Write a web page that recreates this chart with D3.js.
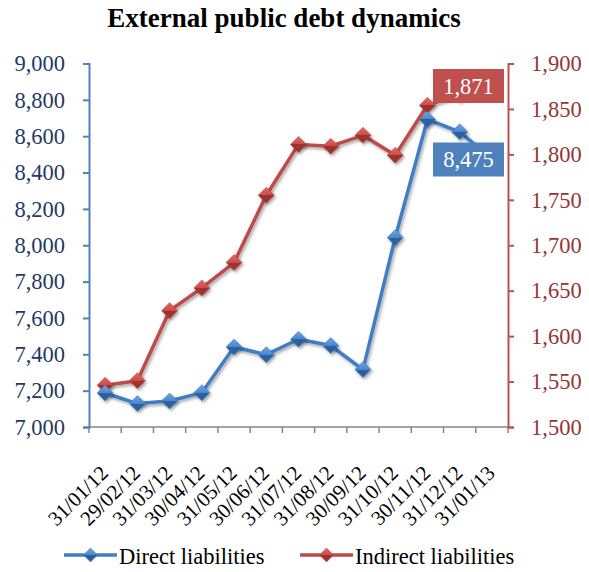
<!DOCTYPE html>
<html><head><meta charset="utf-8">
<script src="https://cdn.jsdelivr.net/npm/d3@7"></script>
<style>body{margin:0;background:#fff}svg{display:block}</style>
</head><body><svg id="c" width="589" height="572"></svg>
<script>
const categories = ["31/01/12","29/02/12","31/03/12","30/04/12","31/05/12","30/06/12","31/07/12","31/08/12","30/09/12","31/10/12","30/11/12","31/12/12","31/01/13"];
const directValues = [7187,7129,7143,7189,7440,7398,7483,7448,7316,8042,8692,8624,8475];
const indirectValues = [1546,1551,1628,1653,1681,1755,1811,1809,1821,1799,1854,1866,1871];
const leftTicks = [7000,7200,7400,7600,7800,8000,8200,8400,8600,8800,9000];
const rightTicks = [1500,1550,1600,1650,1700,1750,1800,1850,1900];
const seriesNames = ["Direct liabilities","Indirect liabilities"];

const svg = d3.select("#c");
const font = "'Liberation Serif','Times New Roman',serif";
const L = 89, R = 508, T = 63.5, B = 427;
const blue = "#3F7DC5", red = "#C0504D";

const x = d3.scaleBand().domain(categories).range([L, R]);
const yL = d3.scaleLinear().domain([7000, 9000]).range([B, T]);
const yR = d3.scaleLinear().domain([1500, 1900]).range([B, T]);

const defs = svg.append("defs");
const f = defs.append("filter").attr("id","sh").attr("x","-50%").attr("y","-50%").attr("width","200%").attr("height","200%");
f.append("feDropShadow").attr("dx",1.5).attr("dy",2).attr("stdDeviation",1.5).attr("flood-color","#000").attr("flood-opacity",0.35);

svg.append("text").attr("x", 284).attr("y", 27).attr("text-anchor","middle")
  .attr("font-family", font).attr("font-weight","bold").attr("font-size", 27).attr("fill","#000")
  .text("External public debt dynamics");

// x axis
const xa = svg.append("g").attr("transform", `translate(0,${B})`);
xa.append("line").attr("x1", L).attr("x2", R).attr("stroke","#868686").attr("stroke-width",1.5);
const bounds = categories.map(c => x(c)).concat([R]);
xa.selectAll("line.t").data(bounds).join("line").attr("class","t")
  .attr("x1", d=>d).attr("x2", d=>d).attr("y1",0).attr("y2",6).attr("stroke","#868686").attr("stroke-width",1.5);
svg.append("g").selectAll("text").data(categories).join("text")
  .attr("transform", d => `translate(${x(d)+x.bandwidth()/2-1},${B+42}) rotate(-45)`)
  .attr("text-anchor","end").attr("dy","0.35em")
  .attr("font-family", font).attr("font-size", 21).attr("fill","#000").text(d=>d);

// left axis
const la = svg.append("g").attr("transform", `translate(${L},0)`)
  .call(d3.axisLeft(yL).tickValues(leftTicks).tickSize(6).tickPadding(18).tickFormat(d3.format(",")));
la.select(".domain").attr("stroke", "#4F81BD").attr("stroke-width",2);
la.selectAll(".tick line").attr("stroke","#4F81BD").attr("stroke-width",2);
la.selectAll(".tick text").attr("font-family", font).attr("font-size", 22.5).attr("fill","#1F3A64");

// right axis
const ra = svg.append("g").attr("transform", `translate(${R},0)`)
  .call(d3.axisRight(yR).tickValues(rightTicks).tickSize(6).tickPadding(17).tickFormat(d3.format(",")));
ra.select(".domain").attr("stroke", red).attr("stroke-width",2);
ra.selectAll(".tick line").attr("stroke",red).attr("stroke-width",2);
ra.selectAll(".tick text").attr("font-family", font).attr("font-size", 22.5).attr("fill","#943634");

function diamondGrad(id, light, mid, dark){
  const g = defs.append("linearGradient").attr("id", id).attr("x1","0").attr("y1","0").attr("x2","0").attr("y2","1");
  g.append("stop").attr("offset","0").attr("stop-color", light);
  g.append("stop").attr("offset","0.5").attr("stop-color", mid);
  g.append("stop").attr("offset","0.5").attr("stop-color", dark);
  g.append("stop").attr("offset","1").attr("stop-color", dark);
}
diamondGrad("gb", "#6FA3E0", "#4A86D0", "#2E5E9E");
diamondGrad("gr", "#E06A66", "#CC4A46", "#9E302D");

function drawSeries(vals, scale, color, grad){
  const pts = vals.map((v,i)=>[x(categories[i])+x.bandwidth()/2, scale(v)]);
  svg.append("path").attr("d", d3.line()(pts)).attr("fill","none").attr("stroke",color)
    .attr("stroke-width",3.5).attr("stroke-linejoin","round").attr("filter","url(#sh)");
  svg.append("g").selectAll("path").data(pts).join("path")
    .attr("d", "M0,-8L8,0L0,8L-8,0Z")
    .attr("transform", d=>`translate(${d[0]},${d[1]})`)
    .attr("fill", `url(#${grad})`).attr("stroke", color).attr("stroke-width",0.6).attr("filter","url(#sh)");
  return pts;
}
drawSeries(indirectValues, yR, "#BE4B48", "gr");
drawSeries(directValues, yL, blue, "gb");

// data labels
function label(val, cy, fill){
  const g = svg.append("g");
  g.append("rect").attr("x", 433).attr("y", cy-17).attr("width", 71).attr("height", 34).attr("fill", fill);
  g.append("text").attr("x", 468.5).attr("y", cy).attr("dy","0.35em").attr("text-anchor","middle")
    .attr("font-family", font).attr("font-size", 22.5).attr("fill","#fff").text(d3.format(",")(val));
}
label(indirectValues[12], 86, "#C0504D");
label(directValues[12], 159.5, "#4F81BD");

// legend
const lg = svg.append("g");
const items = [{n:seriesNames[0], c:blue, g:"gb", x:64},{n:seriesNames[1], c:"#BE4B48", g:"gr", x:300}];
items.forEach(it=>{
  lg.append("line").attr("x1", it.x).attr("x2", it.x+53).attr("y1",555).attr("y2",555).attr("stroke",it.c).attr("stroke-width",3.5);
  lg.append("path").attr("d","M0,-7L7,0L0,7L-7,0Z").attr("transform",`translate(${it.x+26.5},555)`).attr("fill",`url(#${it.g})`).attr("stroke",it.c).attr("stroke-width",0.6);
  lg.append("text").attr("x", it.x+55).attr("y",556).attr("dy","0.35em").attr("font-family",font).attr("font-size",22.5).attr("fill","#000").text(it.n);
});
</script></body></html>
